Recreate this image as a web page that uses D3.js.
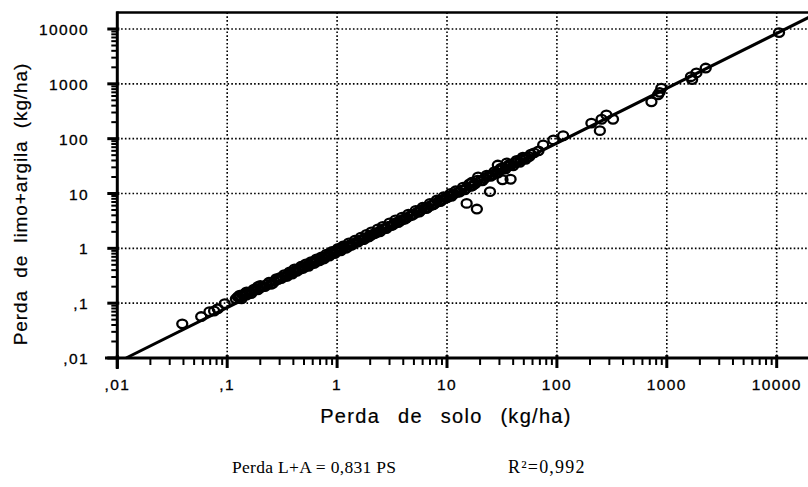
<!DOCTYPE html>
<html><head><meta charset="utf-8">
<script src="https://cdn.jsdelivr.net/npm/d3@7"></script>
<style>
html,body{margin:0;padding:0;background:#fff;}
svg{display:block;}
</style></head>
<body>
<svg id="chart" width="808" height="487"></svg>
<script>
// ---- data (kg/ha) ----
const soloLoss = [0.039,0.058,0.069,0.076,0.082,0.095,0.12,0.125,0.13,0.14,0.145,0.15,0.16,0.17,0.18,0.19,0.2,0.21,0.23,0.25,0.27,0.29,0.3,0.32,0.34,0.36,0.38,0.4,0.42,0.44,0.46,0.48,0.5,0.53,0.56,0.6,0.63,0.66,0.7,0.74,0.78,0.82,0.87,0.92,0.97,1.0,1.05,1.1,1.15,1.2,1.3,1.4,1.5,1.6,1.7,1.8,1.9,2.0,2.1,2.3,2.5,2.7,2.9,3.1,3.3,3.5,3.8,4.0,4.3,4.6,5.0,5.4,5.8,6.2,6.7,7.2,7.8,8.4,9.0,9.7,10.5,11.5,12.5,13.5,15,16.5,18,20,22,24,26,28,30,32,35,38,41,44,47,50,53,56,62,68,
  0.13,0.135,0.15,0.165,0.175,0.19,0.2,0.22,0.24,0.26,0.28,0.31,0.33,0.35,0.37,0.39,0.41,0.43,0.47,0.49,0.52,0.55,0.58,0.62,0.65,0.69,0.72,0.76,0.8,0.85,0.9,0.95,1.02,1.08,1.13,1.25,1.28,1.35,1.45,1.55,1.65,1.75,1.85,1.95,2.05,2.2,2.35,2.45,2.6,2.8,3.0,3.2,3.4,3.6,3.9,4.15,4.45,4.8,5.2,5.6,6.0,6.5,7.0,7.5,8.1,8.7,9.3,10,10.8,11,12,13,14,14.5,16,17,19,21,23,25,27,29,31,34,37,40,43,46,49,52,58,
  15.1,18.7,24.6,32,37.9,29,19.2,16.8,35,
  75,93,114,206,246,255,282,324,725,832,860,891,1660,1700,1860,2260,10500];
const limoArgilaLoss = [0.042,0.057,0.07,0.072,0.079,0.098,0.12,0.13,0.125,0.14,0.15,0.14,0.16,0.165,0.18,0.175,0.19,0.2,0.22,0.22,0.25,0.27,0.29,0.3,0.31,0.33,0.36,0.37,0.4,0.41,0.42,0.45,0.46,0.48,0.5,0.55,0.58,0.6,0.63,0.66,0.7,0.74,0.8,0.83,0.9,0.93,0.95,1.0,1.05,1.0,1.15,1.2,1.3,1.4,1.45,1.55,1.6,1.7,1.8,1.95,2.1,2.3,2.5,2.6,2.8,3.0,3.2,3.4,3.6,3.9,4.2,4.6,5.0,5.3,5.6,6.1,6.6,7.2,7.6,8.3,9.0,9.8,10.5,11.5,12.5,13.5,15,17,19,21,22,24,27,28,31,33,36,38,41,44,45,47,55,60,
  0.14,0.12,0.16,0.15,0.18,0.2,0.21,0.2,0.24,0.23,0.28,0.28,0.33,0.31,0.37,0.34,0.42,0.38,0.47,0.43,0.52,0.47,0.57,0.53,0.64,0.59,0.7,0.64,0.78,0.72,0.88,0.8,1.0,0.9,1.1,1.05,1.25,1.13,1.4,1.3,1.6,1.45,1.8,1.62,2.0,1.85,2.25,2.0,2.5,2.3,2.9,2.65,3.3,2.95,3.7,3.4,4.2,4.0,4.9,4.6,5.6,5.3,6.6,6.2,7.6,7.1,8.7,8.3,10,8.9,11.2,10.6,13,11.7,15,13.8,17.5,17,21.5,20.5,25,23.5,29,28,34,32,40,37,46,42,52,
  6.6,5.2,10.8,17.8,18.2,33,20,16,36,
  77,95,113,192,140,226,272,226,470,631,700,832,1350,1200,1580,1940,8600];
const tickValues = [0.01,0.1,1,10,100,1000,10000];
const tickLabels = [",01",",1","1","10","100","1000","10000"];
const slope = 0.831;
const r2Label = "R\u00B2=0,992";
const xTitle = "Perda de solo (kg/ha)";
const yTitle = "Perda de limo+argila (kg/ha)";
const eqLabel = "Perda L+A = 0,831 PS";

// ---- layout ----
const svg = d3.select("#chart");
const x = d3.scaleLog().domain([0.01, 10000]).range([117.3, 776.7]);
const y = d3.scaleLog().domain([0.01, 10000]).range([358, 29]);
const xMax = 20000, yMax = 20000;
const font = "'Liberation Sans', Arial, Helvetica, sans-serif";
const serif = "'Liberation Serif', 'Times New Roman', serif";

// minor tick values
const minors = [];
for (let d = 0.01; d < 15000; d *= 10) {
  for (let k = 2; k <= 9; k++) minors.push(+(d * k).toPrecision(3));
}

// grid
const grid = svg.append("g").attr("stroke", "#000").attr("stroke-width", 1.6).attr("stroke-dasharray", "1.6,2.2");
grid.selectAll("line.h").data(tickValues.slice(1)).join("line").attr("class", "h")
  .attr("x1", x(0.01)).attr("x2", x(xMax))
  .attr("y1", d => y(d)).attr("y2", d => y(d));
grid.selectAll("line.v").data(tickValues.slice(1)).join("line").attr("class", "v")
  .attr("x1", d => x(d)).attr("x2", d => x(d))
  .attr("y1", y(yMax)).attr("y2", y(0.01));

// top frame
svg.append("line").attr("x1", x(0.01) - 1).attr("x2", x(xMax))
  .attr("y1", y(yMax)).attr("y2", y(yMax))
  .attr("stroke", "#000").attr("stroke-width", 2.5);

// x axis
const xAxis = svg.append("g").attr("stroke", "#000");
xAxis.append("line").attr("x1", 105).attr("x2", x(xMax))
  .attr("y1", y(0.01)).attr("y2", y(0.01)).attr("stroke-width", 3);
xAxis.selectAll("line.mi").data(minors.filter(d => d < xMax)).join("line").attr("class", "mi")
  .attr("x1", d => x(d)).attr("x2", d => x(d))
  .attr("y1", y(0.01)).attr("y2", y(0.01) + 7).attr("stroke-width", 2);
xAxis.selectAll("line.ma").data(tickValues).join("line").attr("class", "ma")
  .attr("x1", d => x(d)).attr("x2", d => x(d))
  .attr("y1", y(0.01) - 3).attr("y2", y(0.01) + 10).attr("stroke-width", 3);
svg.append("g").selectAll("text").data(tickValues).join("text")
  .attr("x", d => x(d)).attr("y", 390)
  .attr("text-anchor", "middle")
  .attr("font-family", font).attr("font-size", 15.5).attr("letter-spacing", 1.4)
  .attr("stroke", "#000").attr("stroke-width", 0.3)
  .text((d, i) => tickLabels[i]);

// y axis
const yAxis = svg.append("g").attr("stroke", "#000");
yAxis.append("line").attr("x1", x(0.01)).attr("x2", x(0.01))
  .attr("y1", y(yMax) - 1).attr("y2", y(0.01) + 11).attr("stroke-width", 3);
yAxis.selectAll("line.mi").data(minors.filter(d => d < yMax)).join("line").attr("class", "mi")
  .attr("x1", x(0.01) - 6).attr("x2", x(0.01))
  .attr("y1", d => y(d)).attr("y2", d => y(d)).attr("stroke-width", 2);
yAxis.selectAll("line.ma").data(tickValues).join("line").attr("class", "ma")
  .attr("x1", x(0.01) - 10).attr("x2", x(0.01) + 2)
  .attr("y1", d => y(d)).attr("y2", d => y(d)).attr("stroke-width", 3);
svg.append("g").selectAll("text").data(tickValues).join("text")
  .attr("x", 89).attr("y", d => y(d) + 6)
  .attr("text-anchor", "end")
  .attr("font-family", font).attr("font-size", 15.5).attr("letter-spacing", 1.4)
  .attr("stroke", "#000").attr("stroke-width", 0.3)
  .text((d, i) => tickLabels[i]);

// regression line
const x0 = 0.01 / slope;
svg.append("line")
  .attr("x1", x(x0)).attr("y1", y(slope * x0))
  .attr("x2", x(xMax)).attr("y2", y(slope * xMax))
  .attr("stroke", "#000").attr("stroke-width", 3);

// points
svg.append("g").selectAll("ellipse").data(soloLoss).join("ellipse")
  .attr("cx", d => x(d)).attr("cy", (d, i) => y(limoArgilaLoss[i]))
  .attr("rx", 5).attr("ry", 4.3)
  .attr("fill", "none").attr("stroke", "#000").attr("stroke-width", 2.3);

// titles
svg.append("text").attr("x", 446).attr("y", 423).attr("text-anchor", "middle")
  .attr("font-family", font).attr("font-size", 20)
  .attr("letter-spacing", 1.3).attr("word-spacing", 11)
  .attr("stroke", "#000").attr("stroke-width", 0.2)
  .text(xTitle);
svg.append("text").attr("transform", "translate(27,204) rotate(-90)").attr("text-anchor", "middle")
  .attr("font-family", font).attr("font-size", 19)
  .attr("letter-spacing", 0.9).attr("word-spacing", 6)
  .attr("stroke", "#000").attr("stroke-width", 0.2)
  .text(yTitle);

// equation
svg.append("text").attr("x", 232).attr("y", 473)
  .attr("font-family", serif).attr("font-size", 17.5)
  .attr("letter-spacing", 0.3)
  .text(eqLabel);
svg.append("text").attr("x", 508).attr("y", 473)
  .attr("font-family", serif).attr("font-size", 18)
  .attr("letter-spacing", 1.2)
  .text(r2Label);
</script>
</body></html>
